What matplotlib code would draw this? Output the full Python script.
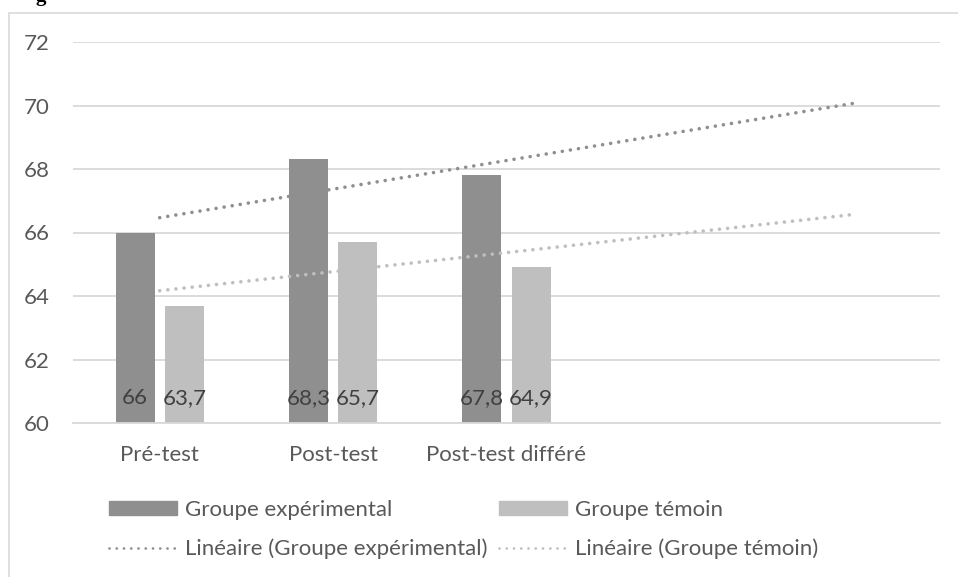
import matplotlib
matplotlib.use('Agg')
import matplotlib.pyplot as plt
import numpy as np
from matplotlib.patches import Rectangle
from matplotlib.lines import Line2D

# Data
categories = ['Pré-test', 'Post-test', 'Post-test différé']
experimental = [66, 68.3, 67.8]
temoin = [63.7, 65.7, 64.9]
labels_exp = ['66', '68,3', '67,8']
labels_tem = ['63,7', '65,7', '64,9']
series_names = ['Groupe expérimental', 'Groupe témoin']
trend_names = ['Linéaire (Groupe expérimental)', 'Linéaire (Groupe témoin)']
y_ticks = [60, 62, 64, 66, 68, 70, 72]
forecast_forward = 2  # trendline extended by two periods

plt.rcParams['font.family'] = ['Lato', 'DejaVu Sans']

W, H = 958, 577
DPI = 100
fig = plt.figure(figsize=(W / DPI, H / DPI), dpi=DPI)

c_exp = '#8f8f8f'
c_tem = '#bfbfbf'
txt = '#595959'
grid_c = '#d9d9d9'
fs = 16

# Outer chart border (extends past right and bottom edges)
fig.patches.append(Rectangle((9 / W, -0.2), 1.2, 1.2 - 13 / H, transform=fig.transFigure,
                             fill=False, edgecolor=grid_c, linewidth=1.2))
# cut-off caption above the chart
fig.text(35 / W, 1.0 - 1 / H, 'g', family='Liberation Serif', fontweight='bold',
         fontsize=15, color='black', va='baseline', ha='left')

ax = fig.add_axes([73 / W, 1 - 423 / H, (940 - 73) / W, (423 - 42) / H])

n_slots = len(categories) + forecast_forward
x = np.arange(1, len(categories) + 1)
bw = 0.225
off = 0.142

ax.bar(x - off, experimental, bw, color=c_exp, zorder=2)
ax.bar(x + off, temoin, bw, color=c_tem, zorder=2)

for xi, lab in zip(x - off, labels_exp):
    ax.annotate(lab, xy=(xi, 60), xytext=(0, 18), textcoords='offset points',
                ha='center', va='center', fontsize=fs, color='#404040', zorder=3)
for xi, lab in zip(x + off, labels_tem):
    ax.annotate(lab, xy=(xi, 60), xytext=(0, 18), textcoords='offset points',
                ha='center', va='center', fontsize=fs, color='#404040', zorder=3)

# Linear trendlines with forward forecast
xt = np.array([1, n_slots])
for vals, col in [(experimental, c_exp), (temoin, c_tem)]:
    k, b = np.polyfit(x, vals, 1)
    ax.plot(xt, k * xt + b, color=col, linewidth=2.6, linestyle=(0, (0.01, 2.25)),
            dash_capstyle='round', zorder=4)

ax.set_xlim(0.5, n_slots + 0.5)
ax.set_ylim(60, 72)
ax.set_yticks(y_ticks)
ax.set_yticklabels([str(t) for t in y_ticks])
ax.set_xticks(x)
ax.set_xticklabels(categories)
ax.tick_params(axis='both', length=0, labelsize=fs, labelcolor=txt)
ax.tick_params(axis='y', pad=16.5)
ax.tick_params(axis='x', pad=16)
ax.grid(axis='y', color=grid_c, linewidth=1.3, zorder=0)
ax.set_axisbelow(True)
for s in ['top', 'right', 'left']:
    ax.spines[s].set_visible(False)
ax.spines['bottom'].set_color(grid_c)
ax.spines['bottom'].set_linewidth(1.3)

# Legend: two columns placed explicitly
px = fs * DPI / 72
hl = 68 / px
tp = 8 / px
col_x = [109, 499]
for i, (col, name, tname) in enumerate(zip([c_exp, c_tem], series_names, trend_names)):
    handles = [Rectangle((0, 0), 1, 1, color=col),
               Line2D([0], [0], color=col, linewidth=2.0, linestyle=(0, (0.01, 2.6)),
                      dash_capstyle='round')]
    fig.legend(handles, [name, tname], loc='upper left',
               bbox_to_anchor=(col_x[i] / W, 1 - 500 / H),
               frameon=False, fontsize=fs, handlelength=hl, handletextpad=tp,
               handleheight=0.55, labelspacing=0.85, borderpad=0, borderaxespad=0,
               labelcolor=txt)

fig.savefig('out.png', dpi=DPI)
